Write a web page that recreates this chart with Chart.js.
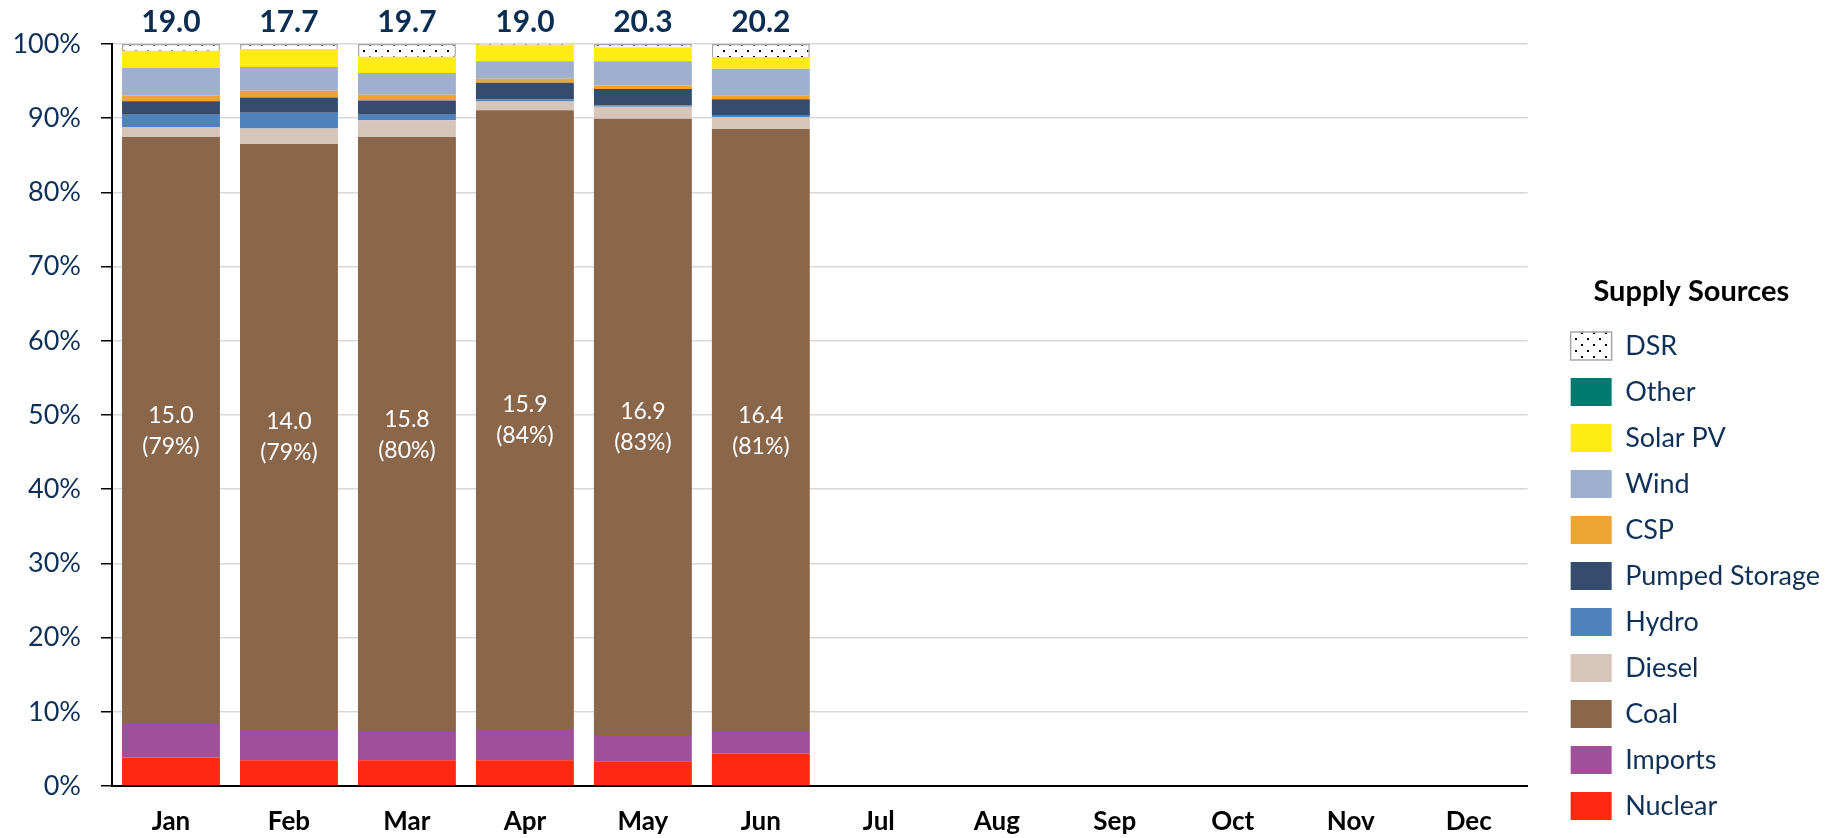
<!DOCTYPE html>
<html>
<head>
<meta charset="utf-8">
<script src="https://cdn.jsdelivr.net/npm/chart.js@4.4.1/dist/chart.umd.min.js"></script>
<style>
  html, body { margin: 0; padding: 0; background: #fff; }
</style>
</head>
<body>
<canvas id="chart" width="1838" height="838"></canvas>
<script>
// months on the x axis
const months = ['Jan', 'Feb', 'Mar', 'Apr', 'May', 'Jun', 'Jul', 'Aug', 'Sep', 'Oct', 'Nov', 'Dec']

// monthly total supply (label on top) and coal supply (label inside coal bar)
const totals = [19.0, 17.7, 19.7, 19.0, 20.3, 20.2]
const coalGW = [15.0, 14.0, 15.8, 15.9, 16.9, 16.4]

// share of monthly supply per source, in %
const nuclear = [3.85, 3.48, 3.48, 3.48, 3.35, 4.39]
const imports = [4.52, 4.21, 3.81, 4.21, 3.53, 2.90]
const coal    = [79.11, 78.84, 80.19, 83.39, 83.03, 81.27]
const diesel  = [1.35, 2.07, 2.25, 1.17, 1.62, 1.58]
const hydro   = [1.62, 2.12, 0.72, 0.32, 0.23, 0.18]
const pumped  = [1.85, 2.07, 1.94, 2.20, 2.16, 2.25]
const csp     = [0.76, 0.90, 0.76, 0.55, 0.49, 0.45]
const wind    = [3.70, 3.20, 2.93, 2.34, 3.25, 3.65]
const solar   = [2.34, 2.43, 2.21, 2.24, 1.89, 1.57]
const other   = [0, 0, 0, 0, 0, 0]
const dsr     = [0.90, 0.68, 1.71, 0.10, 0.45, 1.76]

const yTicks = [0, 10, 20, 30, 40, 50, 60, 70, 80, 90, 100]

const NAVY = '#0f3057'
Chart.defaults.font.family = 'Lato'

const canvas = document.getElementById('chart')

// dotted fill for DSR
function dotPattern() {
  const c = document.createElement('canvas')
  c.width = 12
  c.height = 12
  const g = c.getContext('2d')
  g.fillStyle = '#fff'
  g.fillRect(0, 0, 12, 12)
  g.fillStyle = '#000'
  g.fillRect(3, 2, 2, 2)
  g.fillRect(9, 8, 2, 2)
  return canvas.getContext('2d').createPattern(c, 'repeat')
}

function ds(label, data, color, extra) {
  return Object.assign({ label, data, backgroundColor: color, borderWidth: 0 }, extra || {})
}

// labels inside coal bars and totals above the bars
const barLabels = {
  id: 'barLabels',
  afterDatasetsDraw(chart) {
    const ctx = chart.ctx
    const coalMeta = chart.getDatasetMeta(2)
    const topMeta = chart.getDatasetMeta(chart.data.datasets.length - 1)
    ctx.save()
    ctx.textAlign = 'center'
    ctx.textBaseline = 'middle'
    ctx.fillStyle = '#fff'
    ctx.font = '23px Lato'
    coalGW.forEach((v, i) => {
      const bar = coalMeta.data[i]
      const mid = (bar.y + bar.base) / 2
      ctx.fillText(v.toFixed(1), bar.x, mid - 15)
      ctx.fillText('(' + Math.round(v / totals[i] * 100) + '%)', bar.x, mid + 16)
    })
    ctx.fillStyle = '#0b2d52'
    ctx.font = 'bold 30px Lato'
    totals.forEach((t, i) => {
      ctx.fillText(t.toFixed(1), topMeta.data[i].x, chart.chartArea.top - 22)
    })
    ctx.restore()
  }
}

new Chart(canvas, {
  type: 'bar',
  data: {
    labels: months,
    datasets: [
      ds('Nuclear', nuclear, '#ff2913'),
      ds('Imports', imports, '#a0509a'),
      ds('Coal', coal, '#8a664b'),
      ds('Diesel', diesel, '#d7c5ba'),
      ds('Hydro', hydro, '#4f81bd'),
      ds('Pumped Storage', pumped, '#364c6c'),
      ds('CSP', csp, '#eca532'),
      ds('Wind', wind, '#9eb0ce'),
      ds('Solar PV', solar, '#ffec11'),
      ds('Other', other, '#007a6e'),
      ds('DSR', dsr, dotPattern(), { borderWidth: 1.5, borderColor: '#a6a6a6' })
    ]
  },
  options: {
    responsive: false,
    animation: false,
    datasets: { bar: { categoryPercentage: 1, barPercentage: 0.83 } },
    layout: { padding: { top: 44, right: 8, bottom: 0, left: 0 } },
    plugins: {
      tooltip: { enabled: false },
      legend: {
        position: 'right',
        align: 'end',
        reverse: true,
        title: {
          display: true,
          text: 'Supply Sources',
          color: '#000',
          font: { size: 29, weight: 'bold' },
          padding: { top: 0, bottom: 2 }
        },
        labels: {
          boxWidth: 41,
          boxHeight: 28,
          padding: 18,
          color: NAVY,
          font: { size: 27 }
        }
      }
    },
    scales: {
      x: {
        stacked: true,
        grid: { display: false, drawTicks: false },
        border: { color: '#000', width: 2 },
        ticks: { color: '#000', font: { size: 26, weight: 'bold' }, padding: 20 },
        afterFit: s => { s.height = 52 }
      },
      y: {
        stacked: true,
        min: 0,
        max: 100,
        afterBuildTicks: s => { s.ticks = yTicks.map(v => ({ value: v })) },
        grid: { color: '#d9d9d9', lineWidth: 1.5, tickColor: '#000', tickLength: 11 },
        border: { color: '#000', width: 2 },
        ticks: { color: NAVY, font: { size: 27 }, padding: 20, callback: v => v + '%' },
        afterFit: s => { s.width = 112 }
      },
      pad: {
        position: 'right',
        display: true,
        grid: { display: false, drawTicks: false },
        border: { display: false },
        ticks: { display: false },
        afterFit: s => { s.width = 25 }
      }
    }
  },
  plugins: [barLabels]
})
</script>
</body>
</html>
